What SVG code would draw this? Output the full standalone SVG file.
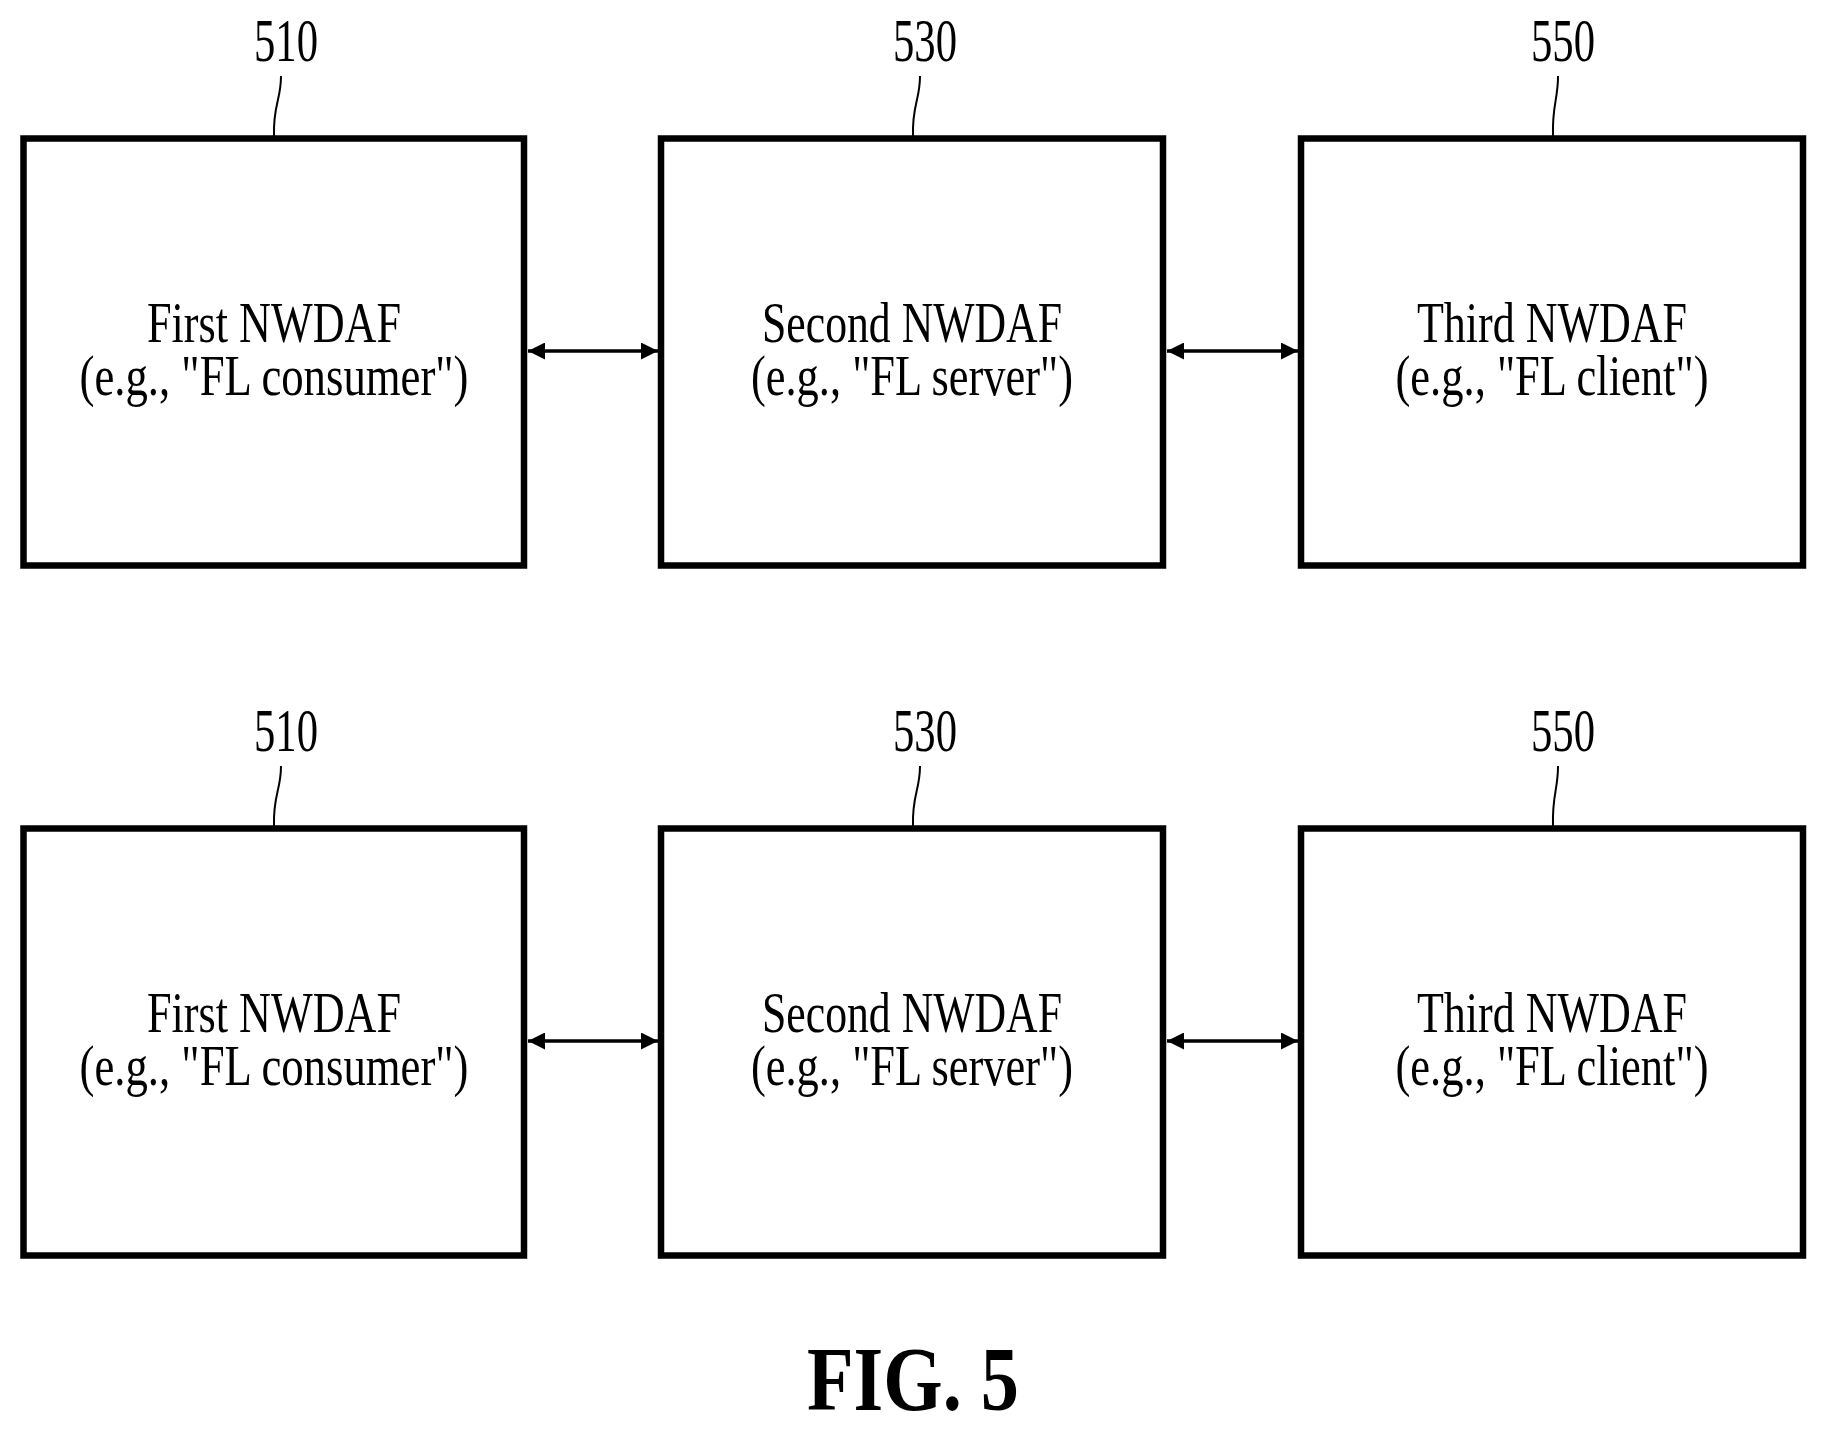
<svg xmlns="http://www.w3.org/2000/svg" width="1827" height="1430" viewBox="0 0 1827 1430">
<style>
.box{fill:#fff;stroke:#000;stroke-width:6.5}
.t{font-family:"Liberation Serif","Times New Roman",serif;font-size:58px;text-anchor:middle;fill:#000}
.n{font-family:"Liberation Serif","Times New Roman",serif;font-size:62px;text-anchor:middle;fill:#000}
.lead{fill:none;stroke:#000;stroke-width:2}
.con{stroke:#000;stroke-width:3.5;marker-start:url(#a);marker-end:url(#a)}
</style>
<defs>
<marker id="a" viewBox="0 0 10 10" refX="10" refY="5" markerWidth="30" markerHeight="17" markerUnits="userSpaceOnUse" orient="auto-start-reverse">
<path d="M0,0 L10,5 L0,10 z" fill="#000"/>
</marker>
</defs>
<rect width="1827" height="1430" fill="#fff"/>
<g id="row1">
<g id="n510a">
<text class="n" x="286" y="61" textLength="64" lengthAdjust="spacingAndGlyphs">510</text>
<path class="lead" d="M281,76 C281,100 273,105 274,136"/>
<rect class="box" x="23.5" y="138.5" width="500.5" height="427"/>
<text class="t" x="274" y="342" textLength="254" lengthAdjust="spacingAndGlyphs">First NWDAF</text>
<text class="t" x="274" y="395" textLength="389" lengthAdjust="spacingAndGlyphs">(e.g., "FL consumer")</text>
</g>
<g id="n530a">
<text class="n" x="925" y="61" textLength="64" lengthAdjust="spacingAndGlyphs">530</text>
<path class="lead" d="M920,76 C920,100 912,105 913,136"/>
<rect class="box" x="661" y="138.5" width="502" height="427"/>
<text class="t" x="912" y="342" textLength="300" lengthAdjust="spacingAndGlyphs">Second NWDAF</text>
<text class="t" x="912" y="395" textLength="322" lengthAdjust="spacingAndGlyphs">(e.g., "FL server")</text>
</g>
<g id="n550a">
<text class="n" x="1563" y="61" textLength="64" lengthAdjust="spacingAndGlyphs">550</text>
<path class="lead" d="M1558,76 C1558,100 1552,105 1553,136"/>
<rect class="box" x="1301" y="138.5" width="502" height="427"/>
<text class="t" x="1552" y="342" textLength="270" lengthAdjust="spacingAndGlyphs">Third NWDAF</text>
<text class="t" x="1552" y="395" textLength="313" lengthAdjust="spacingAndGlyphs">(e.g., "FL client")</text>
</g>
</g>
<g id="row2" transform="translate(0,690)">
<g id="n510b">
<text class="n" x="286" y="61" textLength="64" lengthAdjust="spacingAndGlyphs">510</text>
<path class="lead" d="M281,76 C281,100 273,105 274,136"/>
<rect class="box" x="23.5" y="138.5" width="500.5" height="427"/>
<text class="t" x="274" y="342" textLength="254" lengthAdjust="spacingAndGlyphs">First NWDAF</text>
<text class="t" x="274" y="395" textLength="389" lengthAdjust="spacingAndGlyphs">(e.g., "FL consumer")</text>
</g>
<g id="n530b">
<text class="n" x="925" y="61" textLength="64" lengthAdjust="spacingAndGlyphs">530</text>
<path class="lead" d="M920,76 C920,100 912,105 913,136"/>
<rect class="box" x="661" y="138.5" width="502" height="427"/>
<text class="t" x="912" y="342" textLength="300" lengthAdjust="spacingAndGlyphs">Second NWDAF</text>
<text class="t" x="912" y="395" textLength="322" lengthAdjust="spacingAndGlyphs">(e.g., "FL server")</text>
</g>
<g id="n550b">
<text class="n" x="1563" y="61" textLength="64" lengthAdjust="spacingAndGlyphs">550</text>
<path class="lead" d="M1558,76 C1558,100 1552,105 1553,136"/>
<rect class="box" x="1301" y="138.5" width="502" height="427"/>
<text class="t" x="1552" y="342" textLength="270" lengthAdjust="spacingAndGlyphs">Third NWDAF</text>
<text class="t" x="1552" y="395" textLength="313" lengthAdjust="spacingAndGlyphs">(e.g., "FL client")</text>
</g>
</g>
<g id="connectors">
<line class="con" x1="528" y1="351" x2="658" y2="351"/>
<line class="con" x1="1167" y1="351" x2="1298" y2="351"/>
<line class="con" x1="528" y1="1041" x2="658" y2="1041"/>
<line class="con" x1="1167" y1="1041" x2="1298" y2="1041"/>
</g>
<text x="913" y="1410" font-family="Liberation Serif, serif" font-weight="bold" font-size="92" text-anchor="middle" textLength="212" lengthAdjust="spacingAndGlyphs">FIG. 5</text>
</svg>
